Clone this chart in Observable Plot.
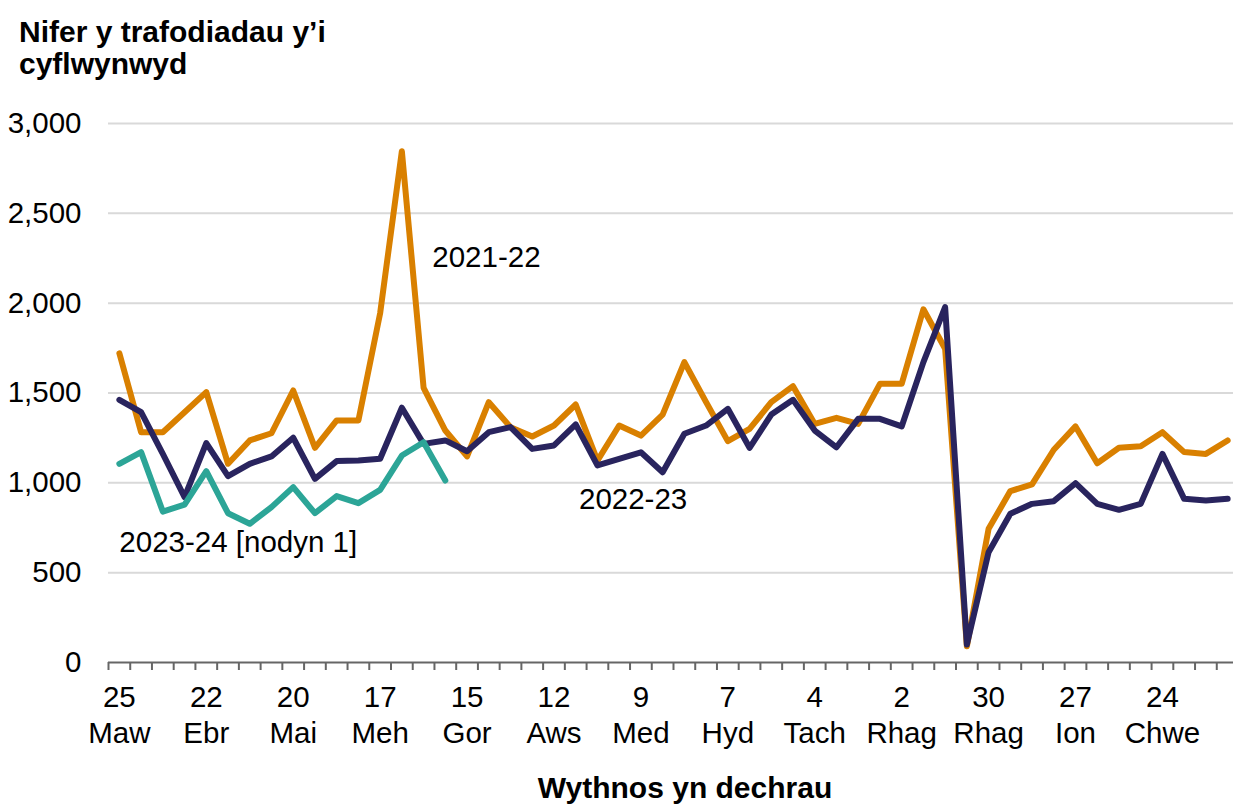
<!DOCTYPE html>
<html><head><meta charset="utf-8">
<script src="https://cdn.jsdelivr.net/npm/d3@7"></script>
<script src="https://cdn.jsdelivr.net/npm/@observablehq/plot@0.6"></script>
<style>
html,body{margin:0;padding:0;background:#fff;overflow:hidden;width:1233px;height:805px}
body{font-family:"Liberation Sans",Arial,sans-serif;color:#000}
#title{font-weight:bold;font-size:30px;line-height:32px;padding:16px 0 0 19px;height:64px}
#xtitle{font-weight:bold;font-size:30px;line-height:32px;box-sizing:border-box;width:1233px;padding-left:137px;text-align:center}
#chart svg{display:block}
</style></head><body>
<div id="title">Nifer y trafodiadau y’i<br>cyflwynwyd</div>
<div id="chart"></div>
<div id="xtitle">Wythnos yn dechrau</div>
<script>
// Weekly tick labels (every 4th week, starting week 0)
const tickLabels = ["25\nMaw","22\nEbr","20\nMai","17\nMeh","15\nGor","12\nAws","9\nMed","7\nHyd","4\nTach","2\nRhag","30\nRhag","27\nIon","24\nChwe"];
const yTicks = [0, 500, 1000, 1500, 2000, 2500, 3000];

// Series values (weekly)
const values2021 = [1721,1282,1282,1393,1505,1106,1236,1276,1514,1195,1347,1347,1944,2846,1529,1291,1147,1449,1310,1258,1319,1436,1124,1319,1263,1380,1672,1449,1232,1300,1449,1538,1328,1362,1328,1551,1551,1966,1746,90,744,954,991,1184,1314,1109,1195,1204,1282,1171,1161,1236];
const values2022 = [1462,1393,1161,920,1221,1037,1106,1147,1251,1022,1121,1124,1134,1418,1217,1236,1176,1282,1310,1189,1208,1325,1097,1134,1170,1059,1273,1319,1412,1195,1380,1462,1291,1198,1356,1356,1314,1672,1978,100,614,828,883,898,998,883,850,883,1161,911,902,911];
const values2023 = [1106,1171,840,879,1065,831,772,865,976,831,926,887,961,1152,1226,1013];

// Series annotations
const annoLabels = ["2021-22","2022-23","2023-24 [nodyn 1]"];
const annoWeeks = [14.4, 21.15, 0];
const annoValues = [2200, 852, 614];

const weekCount = values2021.length;
const tickWeeks = tickLabels.map((_, i) => i * 4);
const labelByWeek = new Map(tickWeeks.map((w, i) => [w, tickLabels[i]]));
const bounds = d3.range(weekCount + 1).map(i => i - 0.5);

const font = '"Liberation Sans", Arial, sans-serif';
const fs = 29.5;
const lineOpts = {x: (d, i) => i, y: d => d, strokeWidth: 6, strokeLinejoin: "round", strokeLinecap: "round"};

const chart = Plot.plot({
  width: 1233, height: 692,
  marginLeft: 108, marginRight: -5, marginTop: 43, marginBottom: 110,
  style: {fontFamily: font, fontSize: fs + "px", color: "#000", background: "#fff", overflow: "hidden"},
  x: {domain: [-0.5, weekCount - 0.5], range: [108, 1238]},
  y: {domain: [0, 3000], range: [582, 43]},
  marks: [
    Plot.gridY(yTicks.filter(d => d > 0), {stroke: "#d9d9d9", strokeOpacity: 1, strokeWidth: 2}),
    Plot.ruleY([0], {stroke: "#666", strokeWidth: 2}),
    Plot.axisY({ticks: yTicks, tickFormat: d3.format(","), tickSize: 0, tickPadding: 27, fontSize: fs, label: null}),
    Plot.axisX({ticks: bounds, tickSize: 8, tickFormat: () => "", stroke: "#666", strokeWidth: 2, label: null}),
    Plot.axisX({ticks: tickWeeks, tickFormat: d => labelByWeek.get(d), tickSize: 0, tickPadding: 19, fontSize: fs, lineHeight: 1.22, label: null}),
    Plot.lineY(values2021, {...lineOpts, stroke: "#D98000"}),
    Plot.lineY(values2022, {...lineOpts, stroke: "#29245E"}),
    Plot.lineY(values2023, {...lineOpts, stroke: "#2CA597"}),
    Plot.text(annoLabels, {x: (d, i) => annoWeeks[i], y: (d, i) => annoValues[i], text: d => d, textAnchor: "start", lineAnchor: "bottom", fontSize: fs, fill: "#000"})
  ]
});
document.getElementById("chart").appendChild(chart);
</script></body></html>
